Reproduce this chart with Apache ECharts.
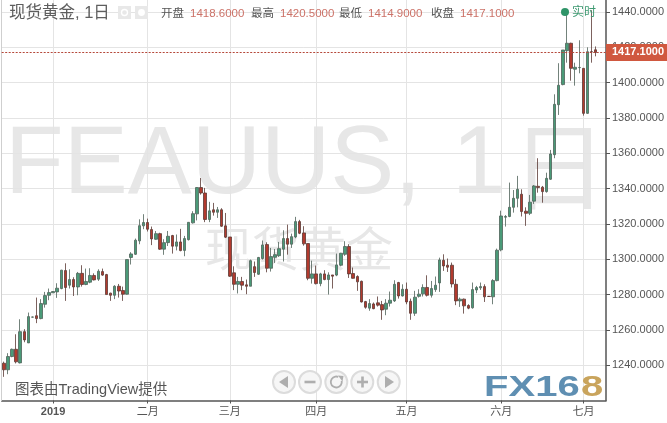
<!DOCTYPE html>
<html><head><meta charset="utf-8">
<style>html,body{margin:0;padding:0;background:#fff}#c{width:667px;height:423px}</style>
<script src="https://cdn.jsdelivr.net/npm/echarts@6/dist/echarts.min.js"></script>
</head><body><div id="c"></div>
<script>
const opens=[1241.1,1237.4,1244.9,1249,1241.3,1259,1252.6,1267.2,1268,1266.4,1274.5,1279.6,1281,1281.5,1283.4,1293.6,1285.3,1288.5,1284.3,1292,1285.7,1287,1290.8,1288.7,1293,1291.3,1280.8,1279.6,1284.7,1282.3,1280.2,1301,1302.8,1310.4,1318.9,1320.8,1316.8,1311.3,1314.5,1305.7,1309.4,
1313.4,1307.4,1309.8,1305,1311.1,1320.6,1325.7,1340.6,1337.5,1322.5,1328,1326.6,1328,1318.9,1312.6,1292.3,1285.8,1287.4,1285.5,1284.7,1295.8,1291.5,1300.4,1308.3,1294.9,1301.1,1302,1305.7,1311.7,1308.5,1312.6,1321.3,1314.9,1308.9,1289.2,1291.7,1286.2,1291.7,1288.5,1291.1,1291,
1296.6,1302.8,1307.2,1291.9,1290.2,1287.5,1276,1272.3,1274.7,1275.3,1274.3,1271.7,1275.1,1276.4,1286.8,1279.2,1283,1276.2,1269.4,1279,1280.4,1284,1279.6,1282.8,1286.6,1299.4,1296.6,1296.6,1285.8,1276.4,1277.4,1273.8,1272.5,1282.6,1283.8,1284.5,1279,1278.7,1287.9,
1305.3,1323.8,1324.2,1329.4,1334.5,1336.8,1327.2,1326,1332.9,1341.3,1340.8,1338.3,1345.3,1359.2,1387.5,1398.9,1418.1,1422.3,1407.6,1408.5,1408.1,1382.6,1417.5,1418.6];
const closes=[1237.4,1244.9,1249,1241.9,1259,1254.3,1267.5,1267.3,1266.4,1274.9,1279.4,1281.1,1281.7,1283.6,1293.8,1284,1288.5,1284.3,1292,1285.7,1287.4,1290.8,1288.3,1293.2,1291,1280,1279.6,1284.7,1282,1280.2,1299.8,1303,1310.8,1319,1320.8,1317,1311.5,1314.5,1305.7,1309.4,1313,
1307.4,1309.8,1304.9,1311.7,1320.9,1325.8,1340.6,1337.5,1322.5,1327.4,1326.6,1328,1318.7,1312.5,1290.4,1285.8,1287.4,1285.3,1284.7,1299.2,1292.5,1301,1308.1,1294.9,1301.5,1302.6,1306,1311.7,1308.5,1312.8,1321.3,1314.7,1308.7,1289.2,1291.7,1286.2,1291.7,1288.5,1291.1,1290.4,1296.8,
1303.4,1307.2,1291.7,1289.2,1287.2,1275.8,1272.8,1274.9,1272,1274,1271.3,1275.1,1276.8,1285.8,1279.2,1283,1275.8,1269.4,1278.5,1280.2,1284,1279.6,1283.4,1285.3,1299.6,1296.2,1295.5,1286,1276.4,1277.4,1273.6,1272.3,1282.8,1284,1284.5,1278.7,1278.9,1287.9,1305.1,
1324.5,1324.2,1329.4,1334.5,1339.6,1327,1326,1332.3,1341.5,1340.6,1338.3,1345.8,1359.6,1387.7,1398.5,1418.5,1422.3,1408.1,1408.7,1408.6,1382.6,1417.5,1417.4,1417.1];
const lows=[1233.4,1234.9,1244.5,1241,1241,1253,1252.6,1267,1263.8,1266,1272.6,1276.8,1280.9,1278.1,1283,1276.4,1283.4,1279.2,1279.6,1284.5,1285.3,1286.4,1288,1287.7,1290.6,1280,1276.4,1277.4,1278.3,1276.4,1280,1297,1302.4,1308.5,1317,1315.7,1308,1311,1305.3,1302.5,1307.5,
1303.2,1305,1304.5,1301.7,1310.6,1320.2,1322,1336.6,1321,1321,1324.7,1323.4,1318.3,1312,1290,1282.5,1280.6,1282.5,1280.2,1284.7,1290,1291.1,1299.8,1292.6,1293,1297.9,1301.3,1298.7,1302.6,1306.4,1311.9,1314.2,1307.7,1288.1,1286.2,1285.7,1284.7,1288.1,1280,1283.4,1290.4,
1296,1301.9,1289.4,1289,1282.1,1275.5,1272,1270.8,1271.7,1273.2,1265.7,1268.3,1273.2,1275.8,1277.7,1278.9,1274.5,1265.7,1267.9,1278.3,1278.9,1278.9,1278.3,1281.5,1281.5,1293.4,1292.8,1284,1274,1273,1269.2,1271.7,1272,1280.8,1282.6,1275.8,1278.7,1274.5,1287.5,
1304.5,1318.5,1323.8,1326.4,1329.4,1324.2,1318.9,1325,1331.3,1337.7,1332,1337.7,1344.9,1357.2,1381.7,1398.5,1411.3,1401.1,1398.3,1405.3,1381.3,1382.3,1411.3,1414.9];
const highs=[1242,1246.8,1249.4,1257.5,1266,1260.4,1269.8,1267.5,1278.3,1277.4,1281.5,1283.4,1282,1286.4,1294,1297.7,1294.3,1289.8,1292.8,1296.6,1294.7,1294.9,1292,1294.3,1294.7,1291.7,1281,1285.3,1286,1284.5,1299.8,1304,1311.7,1322.6,1325.5,1323,1318.5,1316,1315,1311.3,1316,
1313.8,1314,1317.2,1313.2,1321,1327.2,1340.8,1346,1340.4,1332.5,1331.9,1329.6,1328.9,1326.2,1312.6,1296,1290,1290,1288.5,1299.8,1298.7,1301.3,1310.6,1309.6,1306.4,1305.8,1309.8,1316.4,1319.6,1314.5,1324,1322.3,1318.7,1308.9,1299.2,1296.4,1292.3,1293.8,1292.6,1291.1,1303.2,
1303.6,1310.2,1308.5,1295.3,1290.9,1287.9,1276.4,1277.4,1275.5,1278.9,1276.4,1277.4,1281.7,1288.1,1287.2,1285.8,1286.8,1277.7,1282.1,1283,1285.8,1290.9,1287.7,1290.2,1300.9,1302.8,1300.4,1298.1,1288.7,1278.3,1277.7,1274.5,1286.8,1284.9,1286.8,1285.8,1279.2,1288.7,1306,
1327.5,1325,1343.4,1339.2,1347.2,1339.6,1329.4,1336.4,1342,1357.2,1341.5,1349,1361.9,1393.4,1411,1418.5,1439.2,1422.6,1411.3,1424,1408.1,1420,1441,1420.5];
const priceTicks=[1220,1240,1260,1280,1300,1320,1340,1360,1380,1400,1420,1440];
const monthLabels={12:'{b|2019}',35:'二月',55:'三月',76:'四月',98:'五月',121:'六月',141:'七月'};
const categories=[];
for(let d=new Date(Date.UTC(2018,11,14));categories.length<147;d=new Date(d.getTime()+864e5)){
  if(d.getUTCDay()%6!==0)categories.push(d.toISOString().slice(0,10));
}
const lastPrice=1417.1;
const header=[['开盘','1418.6000',161],['最高','1420.5000',251],['最低','1414.9000',339],['收盘','1417.1000',431]];
const FONT='"Liberation Sans","Noto Sans CJK SC",sans-serif';
const isMonth=i=>monthLabels[i]!==undefined;
const T=(x,y,text,size,fill,extra)=>({type:'text',x,y,z:20,silent:true,style:Object.assign({text,fontSize:size,fill,fontFamily:FONT,verticalAlign:'middle'},extra||{})});
const W=(x,y,text,size)=>({type:'text',x,y,z:-1,silent:true,style:{text,fontSize:size,fill:'#e7e7e7',fontFamily:FONT,verticalAlign:'middle'}});
const ic='#aeaeae';
const graphics=[
 W(5,167,'FEAUUS,',96),W(452,167,'1',96),W(511,176,'日',96),
 W(205,253,'现货黄金',47),
 {type:'rect',x:1,y:0,z:1,shape:{width:1,height:401},style:{fill:'#cfcfcf'}},
 T(9,13.5,'现货黄金, 1日',16.5,'#5e5e5e'),
 {type:'rect',x:118,y:6,z:20,shape:{width:13,height:13},style:{fill:'#e8e8e8'}},
 {type:'circle',x:124.5,y:12.5,z:21,shape:{r:3},style:{fill:'none',stroke:'#fff',lineWidth:1.4}},
 {type:'rect',x:135,y:6,z:20,shape:{width:13,height:13},style:{fill:'#e8e8e8'}},
 {type:'circle',x:141.5,y:12.5,z:21,shape:{r:3.4},style:{fill:'#fff'}},
 {type:'circle',x:565,y:12,z:20,shape:{r:4},style:{fill:'#2f9468'}},
 T(572,12.5,'实时',12,'#3f9a72'),
 T(15,390,'图表由TradingView提供',14.5,'#555'),
 Object.assign(T(484,388,'FX16',29,'#5f8fb2',{fontWeight:'bold'}),{scaleX:1.38}),
 Object.assign(T(581,388,'8',29,'#c9a45c',{fontWeight:'bold'}),{scaleX:1.38}),
 {type:'polygon',z:21,shape:{points:[[279,382],[288,376],[288,388]]},style:{fill:ic}},
 {type:'rect',z:21,shape:{x:304.5,y:380.7,width:11,height:2.6},style:{fill:ic}},
 {type:'arc',z:21,shape:{cx:336.3,cy:382,r:5.5,startAngle:-0.2,endAngle:5.08,clockwise:true},style:{fill:'none',stroke:ic,lineWidth:1.8}},
 {type:'polygon',z:21,shape:{points:[[338,375.5],[343.5,376],[342.5,381.5]]},style:{fill:ic}},
 {type:'rect',z:21,shape:{x:357,y:380.7,width:11,height:2.6},style:{fill:ic}},
 {type:'rect',z:21,shape:{x:361.2,y:376.5,width:2.6,height:11},style:{fill:ic}},
 {type:'polygon',z:21,shape:{points:[[394,382],[385,376],[385,388]]},style:{fill:ic}}
];
header.forEach(h=>{graphics.push(T(h[2],14,h[0],11.5,'#555'));graphics.push(T(h[2]+29,14,h[1],11.5,'#cc7268'));});
[284,310,336.3,362.3,388.7].forEach(x=>graphics.push({type:'circle',x,y:382,z:20,shape:{r:11},style:{fill:'#f6f6f6',stroke:'#dcdcdc',lineWidth:2}}));
const chart=echarts.init(document.getElementById('c'),null,{renderer:'canvas'});
chart.setOption({
 animation:false,
 backgroundColor:'#fff',
 grid:{left:1.7,right:61,top:0,height:400.5,outerBoundsMode:'none'},
 xAxis:{type:'category',data:categories,boundaryGap:true,
  axisLine:{show:true,lineStyle:{color:'#555',width:1.5}},
  axisTick:{show:true,alignWithLabel:true,length:3,interval:isMonth,lineStyle:{color:'#555'}},
  splitLine:{show:true,alignWithLabel:true,interval:isMonth,lineStyle:{color:'#e4e4e4',width:1}},
  axisLabel:{interval:isMonth,formatter:(v,i)=>monthLabels[i]||'',margin:6,fontSize:11,color:'#555',fontFamily:FONT,hideOverlap:false,
   rich:{b:{fontWeight:'bold',fontSize:11,color:'#555',fontFamily:FONT}}}},
 yAxis:{type:'value',position:'right',min:priceTicks[0],max:1446.8,interval:20,
  axisLine:{show:true,lineStyle:{color:'#555',width:1.5}},
  axisTick:{show:true,length:4,lineStyle:{color:'#555'}},
  splitLine:{show:true,showMinLine:false,showMaxLine:false,lineStyle:{color:'#e4e4e4',width:1}},
  axisLabel:{showMinLabel:false,showMaxLabel:false,margin:6,fontSize:11,color:'#555',fontFamily:FONT,formatter:v=>v.toFixed(4)}},
 series:[{type:'candlestick',barWidth:3,clip:false,
  data:opens.map((o,i)=>[o,closes[i],lows[i],highs[i]]),
  itemStyle:{color:'#4a9a78',color0:'#b23a2e',borderColor:'#4f6259',borderColor0:'#5a3a35',borderWidth:0.8},
  markLine:{silent:true,symbol:'none',animation:false,
   lineStyle:{color:'#b5483a',type:[2,1.5],width:1},
   label:{show:true,position:'end',distance:0,formatter:()=>lastPrice.toFixed(4),backgroundColor:'#d0583f',color:'#fff',fontWeight:'bold',fontSize:11,fontFamily:FONT,padding:[3,5,3,6]},
   data:[{yAxis:lastPrice}]}}],
 graphic:graphics
});
</script></body></html>
